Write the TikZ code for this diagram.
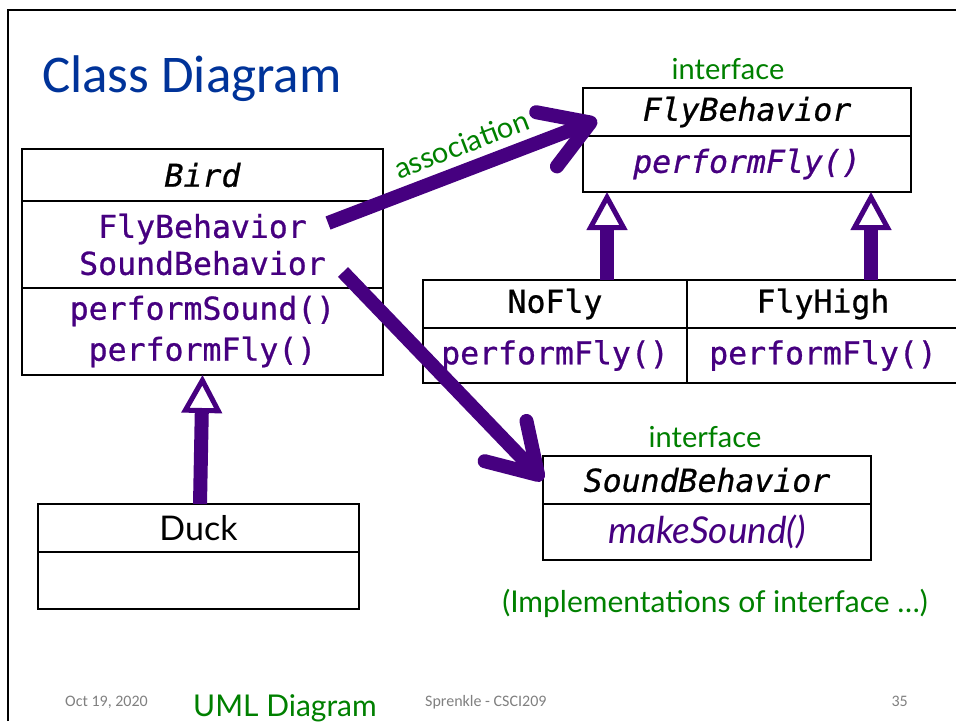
\documentclass[tikz,border=0pt]{standalone}
\usepackage{fontspec}
\setmainfont{Carlito}
\setmonofont{DejaVu Sans Mono}[FakeBold=0.8]
\newfontfamily\gill{Lato}
\usetikzlibrary{positioning,calc,arrows.meta}
\definecolor{umlpurple}{RGB}{70,0,128}
\definecolor{umlgreen}{RGB}{0,128,0}
\definecolor{titleblue}{RGB}{0,51,153}
\definecolor{footgray}{RGB}{128,128,128}

\begin{document}
\begin{tikzpicture}[x=1pt, y=-1pt,
        cell/.style={draw, line width=2pt, inner sep=0pt, outer sep=0pt, align=center,
            font=\ttfamily\fontsize{31.5}{37}\selectfont},
        member/.style={cell, text=umlpurple},
        iface/.style={text=umlgreen, font=\gill\fontsize{29}{34}\selectfont, inner sep=0pt},
        assoc/.style={umlpurple, line width=14pt, -{Straight Barb[length=47pt, width=58pt, round]}},
        inherit/.style={umlpurple, line width=14pt, -{Triangle[open, fill=white, length=38pt, width=40pt, line width'=5pt]}},
        foot/.style={text=footgray, font=\fontsize{16}{18}\selectfont, inner sep=0pt, anchor=base west}]
    \useasboundingbox (0,0) rectangle (956,721);
    \clip (0,0) rectangle (956,721);
    \draw[line width=2pt] (8,721) -- (8,10) -- (956,10);
    \node[anchor=base west, inner sep=0pt, text=titleblue, font=\fontsize{53}{60}\selectfont] (title) at (42,92) {Class Diagram};

    % Bird
    \node[cell, minimum width=361pt, minimum height=52pt, font=\ttfamily\itshape\fontsize{31.5}{37}\selectfont] (birdname) at (202.5,175) {Bird};
    \node[member, minimum width=361pt, minimum height=87pt] (birdattr) at (202.5,244.5) {FlyBehavior\\SoundBehavior};
    \node[member, minimum width=361pt, minimum height=87pt] (birdops) at (202.5,331.5) {performSound()\\[4pt]performFly()};

    % Duck
    \node[cell, minimum width=321pt, minimum height=48pt, font=\gill\fontsize{34}{40}\selectfont] (duckname) at (198.5,528) {Duck};
    \node[cell, minimum width=321pt, minimum height=57pt] (duckbody) at (198.5,580.5) {};

    % FlyBehavior
    \node[cell, minimum width=328pt, minimum height=48pt, font=\ttfamily\itshape\fontsize{31.5}{37}\selectfont] (flyname) at (747,112) {FlyBehavior};
    \node[member, minimum width=328pt, minimum height=56pt, font=\ttfamily\itshape\fontsize{31.5}{37}\selectfont] (flyops) at (747,164) {performFly()};
    \node[iface, above=8pt of flyname, xshift=-19pt] (flylabel) {interface};

    % NoFly / FlyHigh
    \node[cell, minimum width=264pt, minimum height=48pt] (noflyname) at (555,304) {NoFly};
    \node[member, minimum width=264pt, minimum height=55pt] (noflyops) at (555,355.5) {performFly()};
    \node[cell, minimum width=272pt, minimum height=48pt] (flyhighname) at (823,304) {FlyHigh};
    \node[member, minimum width=272pt, minimum height=55pt] (flyhighops) at (823,355.5) {performFly()};

    % SoundBehavior
    \node[cell, minimum width=328pt, minimum height=48pt, font=\ttfamily\itshape\fontsize{31.5}{37}\selectfont] (soundname) at (707,480) {SoundBehavior};
    \node[member, minimum width=328pt, minimum height=56pt, font=\gill\itshape\fontsize{37}{42}\selectfont] (soundops) at (707,532) {makeSound()};
    \node[iface, above=8pt of soundname, xshift=-2pt] (soundlabel) {interface};

    \node[iface, font=\gill\fontsize{30}{34}\selectfont] (impl) at (715,603) {(Implementations of interface …)};

    % connectors
    \coordinate (assocstart) at (328,223);
    \coordinate (soundstart) at (343,272);
    \draw[assoc] (assocstart) -- node[pos=0.53, sloped, above=8pt, iface] {association} ($(flyname.west)+(14,8)$);
    \draw[assoc] (soundstart) -- (soundname.west);
    \draw[inherit] ([xshift=1.5pt]duckname.north) -- (birdops.south);
    \draw[inherit] ([xshift=52pt]noflyname.north) -- ([xshift=52pt]noflyname.north |- flyops.south);
    \draw[inherit] ([xshift=48pt]flyhighname.north) -- ([xshift=48pt]flyhighname.north |- flyops.south);

    % footer
    \node[foot] (date) at (65,706) {Oct 19, 2020};
    \node[foot, text=umlgreen, font=\gill\fontsize{30}{34}\selectfont] (slidename) at (193,716) {UML Diagram};
    \node[foot] (author) at (425,706) {Sprenkle - CSCI209};
    \node[foot, anchor=base east] (pagenum) at (908,706) {35};
\end{tikzpicture}
\end{document}
